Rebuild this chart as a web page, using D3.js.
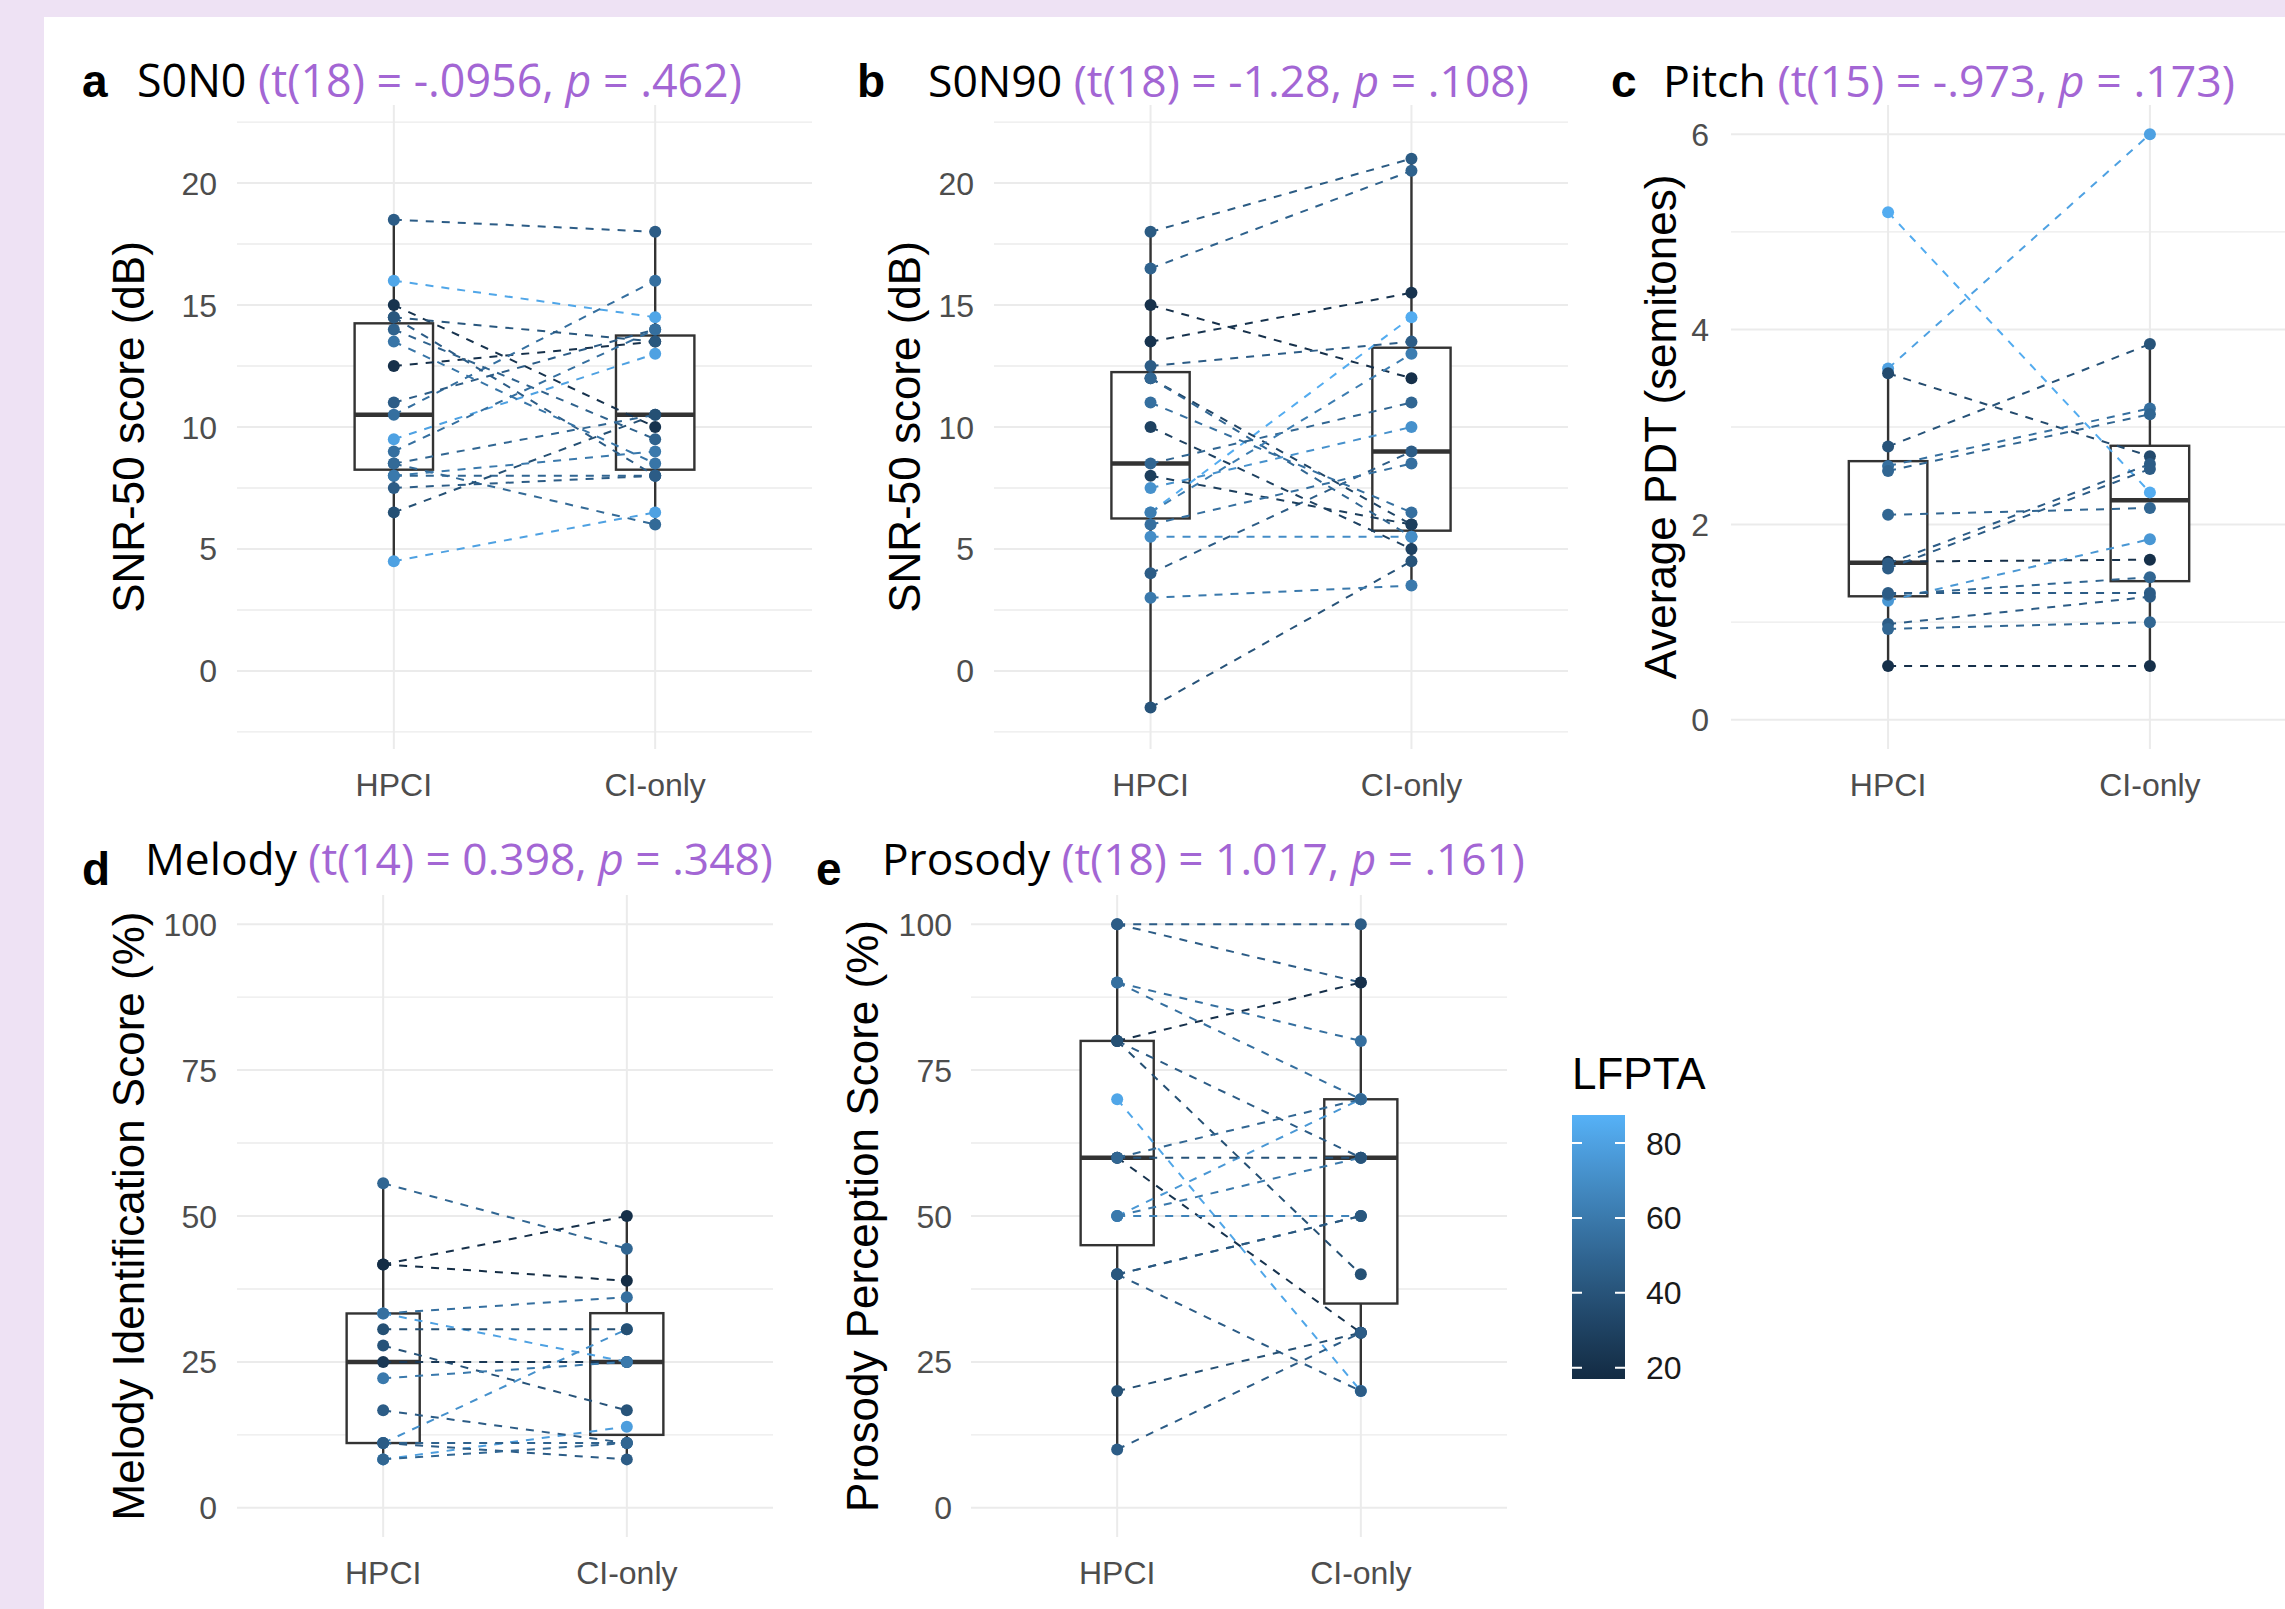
<!DOCTYPE html>
<html>
<head>
<meta charset="utf-8">
<script src="https://cdn.jsdelivr.net/npm/d3@7"></script>
<style>
  body { margin: 0; background: #fff; }
  svg { display: block; }
</style>
</head>
<body>
<div id="chart"></div>
<script>
const groups = ["HPCI", "CI-only"];

// a: S0N0 (SNR-50, dB) — one entry per participant
const s0n0HPCI = [18.5, 16.0, 4.5, 15.0, 12.5, 9.5, 10.5, 14.5, 14.0, 13.5, 11.0, 9.0, 8.5, 8.5, 8.0, 8.0, 7.5, 6.5, 14.5];
const s0n0CI = [18.0, 14.5, 6.5, 10.0, 13.5, 13.0, 16.0, 8.0, 9.5, 8.5, 14.0, 14.0, 10.5, 6.0, 8.0, 9.0, 8.0, 10.5, 13.5];
const s0n0LFPTA = [45, 82, 80, 22, 20, 80, 55, 45, 48, 58, 45, 55, 50, 52, 50, 60, 45, 38, 42];

// b: S0N90 (SNR-50, dB)
const s0n90HPCI = [18.0, 16.5, 15.0, 13.5, 6.5, -1.5, 3.0, 4.0, 12.5, 12.0, 12.0, 11.0, 10.0, 8.5, 8.0, 7.5, 6.5, 6.0, 5.5];
const s0n90CI = [21.0, 20.5, 12.0, 15.5, 14.5, 4.5, 3.5, 9.0, 13.5, 6.0, 5.5, 6.5, 5.0, 11.0, 6.0, 10.0, 13.0, 8.5, 5.5];
const s0n90LFPTA = [44, 48, 20, 22, 85, 40, 60, 45, 45, 32, 50, 55, 30, 50, 28, 72, 62, 55, 70];

// c: Pitch (average PDT, semitones)
const pitchHPCI = [5.2, 3.6, 3.55, 2.8, 2.6, 2.55, 0.55, 1.62, 1.6, 1.55, 1.22, 1.28, 1.3, 0.98, 0.93, 2.1];
const pitchCI = [2.33, 6.0, 2.7, 3.85, 3.19, 3.13, 0.55, 1.64, 2.62, 2.57, 1.85, 1.46, 1.3, 1.26, 1.0, 2.17];
const pitchLFPTA = [85, 80, 35, 40, 55, 50, 20, 20, 45, 45, 75, 50, 45, 45, 50, 50];

// d: Melody identification (%)
const melodyHPCI = [55.6, 41.7, 41.7, 33.3, 11.1, 8.3, 33.3, 30.6, 27.8, 25.0, 22.2, 16.7, 11.1, 11.1, 8.3];
const melodyCI = [44.4, 50.0, 38.9, 25.0, 30.6, 13.9, 36.1, 30.6, 16.7, 25.0, 25.0, 11.1, 11.1, 8.3, 11.1];
const melodyLFPTA = [50, 20, 18, 80, 72, 78, 55, 38, 40, 25, 60, 45, 48, 45, 50];

// e: Prosody perception (%)
const prosodyHPCI = [100, 100, 90, 80, 90, 70, 60, 50, 50, 50, 80, 80, 60, 60, 40, 40, 40, 20, 10];
const prosodyCI = [100, 90, 80, 90, 70, 20, 30, 70, 50, 60, 60, 40, 60, 70, 50, 20, 50, 30, 30];
const prosodyLFPTA = [45, 45, 55, 20, 55, 82, 22, 75, 65, 60, 45, 38, 40, 50, 50, 45, 42, 38, 45];

const testNames = ["S0N0", "S0N90", "Pitch", "Melody", "Prosody"];
const testDf = [18, 18, 15, 14, 18];
const testT = ["-.0956", "-1.28", "-.973", "0.398", "1.017"];
const testP = [".462", ".108", ".173", ".348", ".161"];

const lfptaLimits = [17, 87.5];
const legendTicks = [20, 40, 60, 80];

const W = 2285, H = 1609;
const purple = "#a366d4";
const sansR = "'Liberation Sans', Arial, sans-serif";
const sansT = "'Open Sans', 'Noto Sans', sans-serif";

const color = d3.scaleLinear()
  .domain(lfptaLimits)
  .range(["#132B43", "#56B1F7"])
  .interpolate(d3.interpolateLab);

const panels = [
  { letter: "a", hpci: s0n0HPCI, ci: s0n0CI, lfpta: s0n0LFPTA, yLabel: "SNR-50 score (dB)",
    yDomain: [-3.2, 23.2], ticks: [0, 5, 10, 15, 20], minor: [-2.5, 2.5, 7.5, 12.5, 17.5, 22.5],
    left: 237, right: 812, top: 105, bottom: 749, titleX: 130, labelX: 217,
    letterX: 82, letterY: 97, headX: 137, headY: 97, headW: 605 },
  { letter: "b", hpci: s0n90HPCI, ci: s0n90CI, lfpta: s0n90LFPTA, yLabel: "SNR-50 score (dB)",
    yDomain: [-3.2, 23.2], ticks: [0, 5, 10, 15, 20], minor: [-2.5, 2.5, 7.5, 12.5, 17.5, 22.5],
    left: 994, right: 1568, top: 105, bottom: 749, titleX: 906, labelX: 974,
    letterX: 857, letterY: 97, headX: 928, headY: 97, headW: 601 },
  { letter: "c", hpci: pitchHPCI, ci: pitchCI, lfpta: pitchLFPTA, yLabel: "Average PDT (semitones)",
    yDomain: [-0.3, 6.3], ticks: [0, 2, 4, 6], minor: [1, 3, 5],
    left: 1731, right: 2307, top: 105, bottom: 749, titleX: 1662, labelX: 1709,
    letterX: 1611, letterY: 97, headX: 1663, headY: 97, headW: 572 },
  { letter: "d", hpci: melodyHPCI, ci: melodyCI, lfpta: melodyLFPTA, yLabel: "Melody Identification Score (%)",
    yDomain: [-5, 105], ticks: [0, 25, 50, 75, 100], minor: [12.5, 37.5, 62.5, 87.5],
    left: 237, right: 773, top: 895, bottom: 1537, titleX: 130, labelX: 217,
    letterX: 82, letterY: 885, headX: 145, headY: 875, headW: 628 },
  { letter: "e", hpci: prosodyHPCI, ci: prosodyCI, lfpta: prosodyLFPTA, yLabel: "Prosody Perception Score (%)",
    yDomain: [-5, 105], ticks: [0, 25, 50, 75, 100], minor: [12.5, 37.5, 62.5, 87.5],
    left: 971, right: 1507, top: 895, bottom: 1537, titleX: 864, labelX: 952,
    letterX: 816, letterY: 885, headX: 882, headY: 875, headW: 643 }
];

const svg = d3.select("#chart")
  .append("svg")
  .attr("width", W)
  .attr("height", H)
  .attr("viewBox", [0, 0, W, H]);

// lavender frame on top and left
svg.append("rect").attr("width", W).attr("height", H).attr("fill", "#eee2f4");
svg.append("rect").attr("x", 44).attr("y", 17).attr("width", W - 44).attr("height", H - 17).attr("fill", "#fff");

svg.append("defs").append("clipPath").attr("id", "page")
  .append("rect").attr("x", 44).attr("y", 17).attr("width", W - 44).attr("height", H - 17);

function boxStats(values) {
  const v = values.slice().sort(d3.ascending);
  const q1 = d3.quantile(v, 0.25), med = d3.quantile(v, 0.5), q3 = d3.quantile(v, 0.75);
  const iqr = q3 - q1;
  const lo = d3.min(v.filter((d) => d >= q1 - 1.5 * iqr));
  const hi = d3.max(v.filter((d) => d <= q3 + 1.5 * iqr));
  return { q1, med, q3, lo, hi };
}

function drawPanel(p, i) {
  const x = d3.scalePoint().domain(groups).range([p.left, p.right]).padding(0.6);
  const y = d3.scaleLinear().domain(p.yDomain).range([p.bottom, p.top]);
  const g = svg.append("g").attr("clip-path", "url(#page)");

  // grid
  g.append("g")
    .attr("stroke", "#ebebeb")
    .attr("stroke-width", 1.4)
    .selectAll("line")
    .data(p.minor)
    .join("line")
    .attr("x1", p.left).attr("x2", p.right)
    .attr("y1", (d) => y(d)).attr("y2", (d) => y(d));

  g.append("g")
    .attr("stroke", "#ebebeb")
    .attr("stroke-width", 2)
    .selectAll("line")
    .data(p.ticks)
    .join("line")
    .attr("x1", p.left).attr("x2", p.right)
    .attr("y1", (d) => y(d)).attr("y2", (d) => y(d));

  g.append("g")
    .attr("stroke", "#ebebeb")
    .attr("stroke-width", 2)
    .selectAll("line")
    .data(groups)
    .join("line")
    .attr("x1", (d) => x(d)).attr("x2", (d) => x(d))
    .attr("y1", p.top).attr("y2", p.bottom);

  // axis text
  g.append("g")
    .style("font", `32px ${sansR}`)
    .attr("fill", "#4d4d4d")
    .attr("text-anchor", "end")
    .selectAll("text")
    .data(p.ticks)
    .join("text")
    .attr("x", p.labelX)
    .attr("y", (d) => y(d))
    .attr("dy", "0.36em")
    .text((d) => d);

  g.append("g")
    .style("font", `32px ${sansR}`)
    .attr("fill", "#4d4d4d")
    .attr("text-anchor", "middle")
    .selectAll("text")
    .data(groups)
    .join("text")
    .attr("x", (d) => x(d))
    .attr("y", p.bottom + 47)
    .text((d) => d);

  g.append("text")
    .attr("transform", `translate(${p.titleX},${(p.top + p.bottom) / 2}) rotate(-90)`)
    .attr("text-anchor", "middle")
    .attr("dy", "0.32em")
    .style("font", `44px ${sansR}`)
    .attr("fill", "#000")
    .text(p.yLabel);

  // boxplots
  const bw = x.step() * 0.3;
  const stats = groups.map((k, j) => ({ k, ...boxStats(j ? p.ci : p.hpci) }));
  const box = g.append("g").attr("stroke", "#333").attr("stroke-width", 2.4);
  box.selectAll(".wu").data(stats).join("line")
    .attr("x1", (d) => x(d.k)).attr("x2", (d) => x(d.k))
    .attr("y1", (d) => y(d.hi)).attr("y2", (d) => y(d.q3));
  box.selectAll(".wl").data(stats).join("line")
    .attr("x1", (d) => x(d.k)).attr("x2", (d) => x(d.k))
    .attr("y1", (d) => y(d.q1)).attr("y2", (d) => y(d.lo));
  box.selectAll("rect").data(stats).join("rect")
    .attr("x", (d) => x(d.k) - bw / 2)
    .attr("width", bw)
    .attr("y", (d) => y(d.q3))
    .attr("height", (d) => y(d.q1) - y(d.q3))
    .attr("fill", "#fff");
  box.selectAll(".med").data(stats).join("line")
    .attr("stroke-width", 4.5)
    .attr("x1", (d) => x(d.k) - bw / 2).attr("x2", (d) => x(d.k) + bw / 2)
    .attr("y1", (d) => y(d.med)).attr("y2", (d) => y(d.med));

  // paired lines
  const pairs = p.hpci.map((v, j) => ({ a: v, b: p.ci[j], c: p.lfpta[j] }));
  g.append("g")
    .attr("fill", "none")
    .attr("stroke-width", 2)
    .attr("stroke-dasharray", "8,8")
    .selectAll("line")
    .data(pairs)
    .join("line")
    .attr("x1", x("HPCI")).attr("x2", x("CI-only"))
    .attr("y1", (d) => y(d.a)).attr("y2", (d) => y(d.b))
    .attr("stroke", (d) => color(d.c));

  const pts = pairs.flatMap((d) => [{ k: "HPCI", v: d.a, c: d.c }, { k: "CI-only", v: d.b, c: d.c }]);
  g.append("g")
    .selectAll("circle")
    .data(pts)
    .join("circle")
    .attr("cx", (d) => x(d.k))
    .attr("cy", (d) => y(d.v))
    .attr("r", 6)
    .attr("fill", (d) => color(d.c));

  // heading
  svg.append("text")
    .attr("x", p.letterX).attr("y", p.letterY)
    .style("font", `bold 46px ${sansR}`)
    .attr("fill", "#000")
    .text(p.letter);

  const head = svg.append("text")
    .attr("x", p.headX).attr("y", p.headY)
    .style("font-family", sansT)
    .style("font-size", "40px");
  head.append("tspan").attr("fill", "#000").text(testNames[i] + " ");
  head.append("tspan").attr("fill", purple).text(`(t(${testDf[i]}) = ${testT[i]}, `);
  head.append("tspan").attr("fill", purple).style("font-style", "italic").text("p");
  head.append("tspan").attr("fill", purple).text(` = ${testP[i]})`);
  const w = head.node().getComputedTextLength();
  head.style("font-size", `${(40 * p.headW) / w}px`);
}

panels.forEach(drawPanel);

// colour legend
const legY = d3.scaleLinear().domain(lfptaLimits).range([1379, 1115]);
const grad = svg.select("defs").append("linearGradient")
  .attr("id", "lfpta").attr("x1", 0).attr("x2", 0).attr("y1", 1).attr("y2", 0);
grad.selectAll("stop")
  .data(d3.range(0, 1.0001, 0.05))
  .join("stop")
  .attr("offset", (d) => d)
  .attr("stop-color", (d) => color(lfptaLimits[0] + d * (lfptaLimits[1] - lfptaLimits[0])));

const leg = svg.append("g");
leg.append("text")
  .attr("x", 1572).attr("y", 1089)
  .style("font", `44px ${sansR}`)
  .attr("fill", "#000")
  .text("LFPTA");
leg.append("rect")
  .attr("x", 1572).attr("y", legY(lfptaLimits[1]))
  .attr("width", 53).attr("height", legY(lfptaLimits[0]) - legY(lfptaLimits[1]))
  .attr("fill", "url(#lfpta)");
leg.append("g")
  .attr("stroke", "#fff").attr("stroke-width", 2)
  .selectAll("path")
  .data(legendTicks)
  .join("path")
  .attr("d", (d) => `M1572,${legY(d)}h10M1615,${legY(d)}h10`);
leg.append("g")
  .style("font", `32px ${sansR}`)
  .attr("fill", "#1a1a1a")
  .selectAll("text")
  .data(legendTicks)
  .join("text")
  .attr("x", 1646)
  .attr("y", (d) => legY(d))
  .attr("dy", "0.36em")
  .text((d) => d);
</script>
</body>
</html>
